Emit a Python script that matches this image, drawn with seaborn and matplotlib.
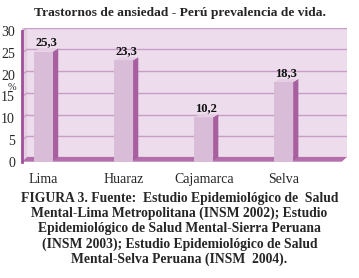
import matplotlib
matplotlib.use("Agg")
import matplotlib.pyplot as plt
import seaborn as sns
import pandas as pd
from matplotlib.patches import Polygon

categories = ["Lima", "Huaraz", "Cajamarca", "Selva"]
values = [25.3, 23.3, 10.2, 18.3]
value_labels = ["25,3", "23,3", "10,2", "18,3"]
yticks = [0, 5, 10, 15, 20, 25, 30]
title = "Trastornos de ansiedad - Perú prevalencia de vida."
caption = ("FIGURA 3. Fuente:  Estudio Epidemiológico de  Salud\n"
           "Mental-Lima Metropolitana (INSM 2002); Estudio\n"
           "Epidemiológico de Salud Mental-Sierra Peruana\n"
           "(INSM 2003); Estudio Epidemiológico de Salud\n"
           "Mental-Selva Peruana (INSM  2004).")

sns.set_style("white")
plt.rcParams['font.family'] = ['Liberation Serif', 'DejaVu Serif']

front = "#d8bcd8"
side = "#a85fa0"
top = "#e6cfe4"
bg = "#ecdcec"
leftwall = "#e4cee2"
floorc = "#b46eac"
purple = "#a0509a"
gridc = "#c99ec6"

fig = plt.figure(figsize=(3.59, 2.78), dpi=100)
ax = fig.add_axes([22/359, (278-163)/278, 325/359, 135/278])
ax.set_facecolor("white")

XMIN, XMAX, YMIN, YMAX = -0.27, 3.79, -0.3, 30.7
wdx, wdy = 0.065, 0.8

# back wall and left wall
ax.add_patch(Polygon([(XMIN + wdx, wdy), (XMAX, wdy), (XMAX, YMAX), (XMIN + wdx, YMAX)],
                     closed=True, facecolor=bg, edgecolor="none", zorder=0))
ax.add_patch(Polygon([(XMIN, 0), (XMIN + wdx, wdy), (XMIN + wdx, YMAX), (XMIN, YMAX)],
                     closed=True, facecolor=leftwall, edgecolor="none", zorder=0))
# floor
ax.add_patch(Polygon([(XMIN, 0), (XMAX - wdx, 0), (XMAX, wdy + 0.3), (XMIN + wdx, wdy + 0.3)],
                     closed=True, facecolor=floorc, edgecolor="none", zorder=2))

for t in yticks[1:]:
    ax.plot([XMIN + wdx, XMAX], [t + wdy, t + wdy], color=gridc, lw=1.0, zorder=1)
    ax.plot([XMIN, XMIN + wdx], [t, t + wdy], color=gridc, lw=1.0, zorder=1)

df = pd.DataFrame({"cat": categories, "val": values})
sns.barplot(data=df, x="cat", y="val", color=front, width=0.235,
            saturation=1, ax=ax, zorder=3, edgecolor="none")

dx, dy = 0.065, 0.7
bars = [b for c in ax.containers for b in c]
for p, lab in zip(bars, value_labels):
    x0, w, h = p.get_x(), p.get_width(), p.get_height()
    x1 = x0 + w
    ax.add_patch(Polygon([(x1, 0.3), (x1 + dx, 0.3 + dy), (x1 + dx, h + dy), (x1, h)],
                         closed=True, facecolor=side, edgecolor="none", zorder=3))
    ax.add_patch(Polygon([(x0, h), (x0 + dx, h + dy), (x1 + dx, h + dy), (x1, h)],
                         closed=True, facecolor=top, edgecolor="none", zorder=3))
    ax.text(x0 + w / 2 + 0.03, h + 2.1, lab, ha="center", va="center",
            fontsize=9, fontweight="bold", color="#111111", zorder=4)

ax.set_xlim(XMIN, XMAX)
ax.set_ylim(YMIN, YMAX)
ax.set_yticks(yticks)
ax.set_yticklabels([str(t) for t in yticks], fontsize=10)

ax.set_xlabel("")
ax.set_ylabel("")
ax.set_xticks(range(len(categories)))
ax.set_xticklabels(categories, fontsize=10)
ax.tick_params(axis="x", length=0, pad=7)
ax.set_xticks([0.72, 1.72, 2.72, 3.72], minor=True)
ax.tick_params(axis="x", which="minor", length=3, color="#6a2a66", direction="out", width=1)
ax.tick_params(axis="y", length=4, color=purple, width=1.2, pad=1, direction="out")

for s in ["top", "right", "bottom"]:
    ax.spines[s].set_visible(False)
ax.spines["left"].set_color(purple)
ax.spines["left"].set_linewidth(2)
ax.spines["left"].set_bounds(0, 30)

fig.text(12/359, 1 - 87.5/278, "%", ha="center", va="center", fontsize=7.5)
fig.text(0.5, 1 - 13/278, title, ha="center", va="center", fontsize=9.7, fontweight="bold")
fig.text(0.5, 1 - 229/278, caption, ha="center", va="center", fontsize=9.8,
         fontweight="bold", linespacing=1.2)

fig.savefig("out.png", dpi=100, facecolor="white")
